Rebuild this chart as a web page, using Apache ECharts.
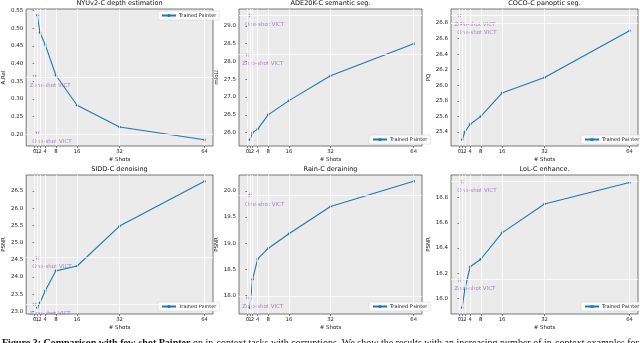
<!DOCTYPE html>
<html>
<head>
<meta charset="utf-8">
<script src="https://cdn.jsdelivr.net/npm/echarts@6/dist/echarts.min.js"></script>
<style>
  html, body { margin: 0; padding: 0; background: #fff; }
  #chart { width: 640px; height: 343px; }
</style>
</head>
<body>
<div id="chart"></div>
<script>
// shots used by Trained Painter, and x tick labels
const shots = [1, 2, 4, 8, 16, 32, 64];
const xTicks = [0, 1, 2, 4, 8, 16, 32, 64];
const victShots = [0, 1]; // zero-shot, one-shot
const victNames = ['Zero-shot VICT', 'One-shot VICT'];

// NYUv2-C depth estimation
const nyuPainter = [0.537, 0.488, 0.453, 0.367, 0.282, 0.220, 0.184];
const nyuVict = [0.365, 0.205];
const nyuTicks = ['0.20', '0.25', '0.30', '0.35', '0.40', '0.45', '0.50', '0.55'];

// ADE20K-C semantic seg.
const adePainter = [25.8, 26.0, 26.1, 26.5, 26.9, 27.6, 28.5];
const adeVict = [28.2, 29.3];
const adeTicks = ['26.0', '26.5', '27.0', '27.5', '28.0', '28.5', '29.0'];

// COCO-C panoptic seg.
const cocoPainter = [25.3, 25.4, 25.5, 25.6, 25.9, 26.1, 26.7];
const cocoVict = [26.9, 26.8];
const cocoTicks = ['25.4', '25.6', '25.8', '26.0', '26.2', '26.4', '26.6', '26.8'];

// SIDD-C denoising
const siddPainter = [23.11, 23.25, 23.6, 24.18, 24.32, 25.48, 26.78];
const siddVict = [23.22, 24.57];
const siddTicks = ['23.0', '23.5', '24.0', '24.5', '25.0', '25.5', '26.0', '26.5'];

// Rain-C deraining
const rainPainter = [17.77, 18.31, 18.70, 18.90, 19.18, 19.70, 20.18];
const rainVict = [17.98, 19.92];
const rainTicks = ['18.0', '18.5', '19.0', '19.5', '20.0'];

// LoL-C enhance.
const lolPainter = [15.925, 16.07, 16.25, 16.31, 16.52, 16.75, 16.92];
const lolVict = [16.15, 16.93];
const lolTicks = ['16.0', '16.2', '16.4', '16.6', '16.8'];

const panels = [
  { title: 'NYUv2-C depth estimation', yName: 'A.Rel', painter: nyuPainter, vict: nyuVict, ticks: nyuTicks,
    grid: { left: 26, top: 9, width: 187, height: 137 }, legend: { left: 158, top: 11 }, nameGap: 14 },
  { title: 'ADE20K-C semantic seg.', yName: 'mIoU', painter: adePainter, vict: adeVict, ticks: adeTicks,
    grid: { left: 239, top: 9, width: 183, height: 137 }, legend: { left: 369, top: 135 }, nameGap: 15 },
  { title: 'COCO-C panoptic seg.', yName: 'PQ', painter: cocoPainter, vict: cocoVict, ticks: cocoTicks,
    grid: { left: 451, top: 9, width: 187, height: 137 }, legend: { left: 581, top: 135 }, nameGap: 16 },
  { title: 'SIDD-C denoising', yName: 'PSNR', painter: siddPainter, vict: siddVict, ticks: siddTicks,
    grid: { left: 26, top: 175, width: 187, height: 139 }, legend: { left: 158, top: 302 }, nameGap: 16 },
  { title: 'Rain-C deraining', yName: 'PSNR', painter: rainPainter, vict: rainVict, ticks: rainTicks,
    grid: { left: 239, top: 175, width: 183, height: 139 }, legend: { left: 369, top: 302 }, nameGap: 16 },
  { title: 'LoL-C enhance.', yName: 'PSNR', painter: lolPainter, vict: lolVict, ticks: lolTicks,
    grid: { left: 451, top: 175, width: 187, height: 139 }, legend: { left: 581, top: 302 }, nameGap: 18 }
];

const font = 'DejaVu Sans';
const blue = '#1f77b4';
const purple = '#9467bd';
const star = 'path://M50,0 L61,35 L98,35 L68,57 L79,91 L50,70 L21,91 L32,57 L2,35 L39,35 Z';

// matplotlib style 5% margins
function pad(lo, hi) {
  const d = (hi - lo) * 0.05;
  return [lo - d, hi + d];
}
const xr = pad(Math.min(...xTicks), Math.max(...xTicks));
// the crowded 0/1/2 labels go on two stacked axes so none is dropped as overlapping
const xTicksA = xTicks.filter(function (v, k) { return k % 2 === 0; });
const xTicksB = xTicks.filter(function (v, k) { return k % 2 === 1; });

const option = {
  animation: false,
  backgroundColor: '#fff',
  title: [], grid: [], xAxis: [], yAxis: [], legend: [], series: [],
  graphic: [{
    type: 'text', left: 2, top: 338.5,
    style: {
      text: '{b|Figure 3: Comparison with few-shot Painter} on in-context tasks with corruptions. We show the results with an increasing number of in-context examples for each task.',
      rich: { b: { fontWeight: 'bold', fontFamily: 'Liberation Serif', fontSize: 10, fill: '#111' } },
      fontFamily: 'Liberation Serif', fontSize: 10, fill: '#111'
    }
  }]
};

function xAxisFor(i, vals, withName) {
  return {
    type: 'value', gridIndex: i, min: xr[0], max: xr[1], position: 'bottom',
    axisLine: { show: false },
    axisTick: { show: true, customValues: vals, length: 2, lineStyle: { color: '#333', width: 0.6 } },
    axisLabel: {
      customValues: vals, fontSize: 5.3, color: '#222', margin: 3, fontFamily: font,
      hideOverlap: false, showMinLabel: true, showMaxLabel: true
    },
    splitLine: { show: false },
    name: withName ? '# Shots' : '', nameLocation: 'middle', nameGap: 11,
    nameTextStyle: { fontSize: 5.5, color: '#222', fontFamily: font }
  };
}

panels.forEach(function (p, i) {
  const all = p.painter.concat(p.vict);
  const yr = pad(Math.min(...all), Math.max(...all));
  const yVals = p.ticks.map(Number);
  const victData = victNames.map(function (n, k) { return { name: n, value: [victShots[k], p.vict[k]] }; });
  const xi = option.xAxis.length;

  option.grid.push(Object.assign({
    show: true, backgroundColor: '#EBEBEB', borderColor: '#555', borderWidth: 0.8
  }, p.grid));

  option.title.push({
    text: p.title,
    left: p.grid.left + p.grid.width / 2,
    top: p.grid.top - 9,
    textAlign: 'center',
    padding: 0,
    textStyle: { fontSize: 6.5, fontWeight: 'normal', color: '#111', fontFamily: font }
  });

  option.xAxis.push(xAxisFor(i, xTicksA, true));
  option.xAxis.push(xAxisFor(i, xTicksB, false));

  option.yAxis.push({
    type: 'value', gridIndex: i, min: yr[0], max: yr[1],
    axisLine: { show: false },
    axisTick: { show: true, customValues: yVals, length: 2, lineStyle: { color: '#333', width: 0.6 } },
    axisLabel: {
      customValues: yVals, fontSize: 5.5, color: '#222', margin: 3, fontFamily: font,
      formatter: function (v) { return p.ticks[yVals.indexOf(v)] || String(v); }
    },
    splitLine: { show: false },
    name: p.yName, nameLocation: 'middle', nameGap: p.nameGap, nameRotate: 90,
    nameTextStyle: { fontSize: 5.5, color: '#222', fontFamily: font }
  });

  option.legend.push({
    left: p.legend.left, top: p.legend.top,
    data: ['Trained Painter'],
    itemWidth: 14, itemHeight: 4, itemGap: 2,
    padding: [2, 3],
    backgroundColor: 'rgba(255,255,255,0.85)',
    borderColor: '#ccc', borderWidth: 0.5, borderRadius: 1.5,
    textStyle: { fontSize: 5, color: '#222', fontFamily: font, padding: [0, 0, 0, -2] }
  });

  // white guide lines: vertical grid at x ticks, horizontal at the VICT scores
  option.series.push({
    name: 'guides', type: 'scatter', xAxisIndex: xi, yAxisIndex: i, z: 0,
    symbolSize: 0, silent: true,
    data: victData,
    markLine: {
      silent: true, symbol: 'none', label: { show: false },
      lineStyle: { color: '#fff', type: 'solid', width: 0.8 },
      data: p.vict.map(function (v) { return { yAxis: v }; })
        .concat(xTicks.map(function (v) { return { xAxis: v }; }))
    }
  });

  // VICT points
  option.series.push({
    name: 'VICT', type: 'scatter', xAxisIndex: xi, yAxisIndex: i, z: 2,
    symbol: star, symbolSize: 5,
    itemStyle: { color: purple },
    label: {
      show: true, formatter: '{b}', position: 'bottom', align: 'left',
      offset: [-5, -1], fontSize: 5.5, color: purple, fontFamily: font
    },
    data: victData
  });

  option.series.push({
    name: 'Trained Painter', type: 'line', xAxisIndex: xi, yAxisIndex: i, z: 3,
    color: blue,
    symbol: 'circle', symbolSize: 2.5, showSymbol: true,
    lineStyle: { color: blue, width: 1.1 },
    itemStyle: { color: blue },
    data: shots.map(function (s, k) { return [s, p.painter[k]]; })
  });
});

const chart = echarts.init(document.getElementById('chart'), null, { renderer: 'canvas' });
chart.setOption(option);
</script>
</body>
</html>
